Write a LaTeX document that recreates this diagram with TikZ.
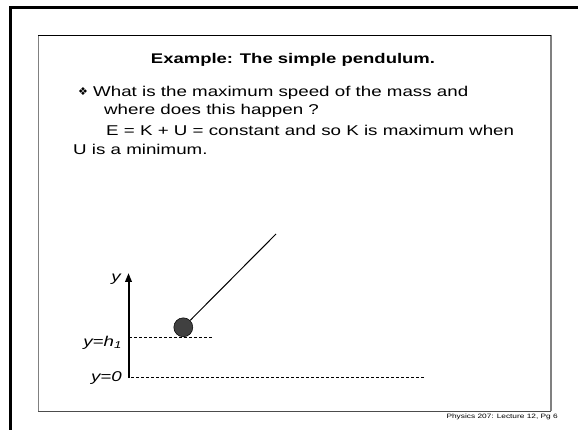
\documentclass[tikz,border=0pt]{standalone}
\usepackage{fontspec}
\setmainfont{Liberation Sans}[FakeStretch=1.32]
\newfontfamily\symfont{DejaVu Sans}
\usetikzlibrary{arrows.meta}

\begin{document}
\begin{tikzpicture}[x=1pt,y=-1pt]
    % --- STILI ---
    \tikzset{
        body_text/.style={anchor=base west, inner sep=0pt, font=\fontsize{14.2}{17}\selectfont},
        axis_label/.style={anchor=base east, inner sep=0pt, font=\fontsize{14.2}{17}\selectfont\itshape},
        level_line/.style={dashed, dash pattern=on 3pt off 2pt, line width=0.6pt},
        bob_style/.style={circle, draw=black, fill=black!75, line width=0.5pt, minimum size=19pt, inner sep=0pt}
    }

    % Pagina
    \useasboundingbox (0,0) rectangle (578,430);

    % ===================================================
    % 1. CORNICI
    % ===================================================
    \draw[line width=3pt] (10.3,430) -- (10.3,7.2) -- (578,7.2);
    \draw[black!50, line width=1.2pt] (38.3,35) -- (38.3,411);
    \draw[black!50, line width=1.2pt] (551,35) -- (551,411);
    \draw[black, line width=0.8pt] (38.3,35) -- (551,35);
    \draw[black!70, line width=0.8pt] (38.3,411) -- (551,411);

    % ===================================================
    % 2. TESTO
    % ===================================================
    \node[font=\fontsize{14}{17}\selectfont\bfseries, anchor=base] (title) at (293,64) {Example: The simple pendulum.};

    \node[inner sep=0pt, font=\fontsize{11}{12}\selectfont\symfont] (bullet) at (83,91.5) {❖};
    \node[body_text] (line1) at (93,97) {What is the maximum speed of the mass and};
    \node[body_text] (line2) at (104,115) {where does this happen ?};
    \node[body_text] (line3) at (106,136) {E = K + U = constant and so K is maximum when};
    \node[body_text] (line4) at (73,155) {U is a minimum.};

    \node[anchor=base east, inner sep=0pt, font=\fontsize{6.3}{8}\selectfont] (footer) at (558,418) {Physics 207: Lecture 12, Pg 6};

    % ===================================================
    % 3. PENDOLO
    % ===================================================
    \coordinate (ground) at (128.5,378);
    \coordinate (axistop) at (128.5,273);
    \coordinate (hstart) at (129,337.5);
    \coordinate (hend) at (212,337.5);
    \coordinate (zstart) at (131,377.5);
    \coordinate (zend) at (424,377.5);
    \coordinate (pivot) at (276,234);

    \node[bob_style] (bob) at (183.3,327.3) {};
    \draw[line width=1pt] (bob) -- (pivot);

    \draw[line width=2pt, -{Triangle[length=9pt, width=6.5pt]}] (ground) -- (axistop);
    \draw[level_line] (hstart) -- (hend);
    \draw[level_line] (zstart) -- (zend);

    \node[axis_label] (ylabel) at (121,282) {y};
    \node[axis_label] (hlabel) at (122,346.5) {y=h\textsubscript{1}};
    \node[axis_label] (zlabel) at (122,381.5) {y=0};
\end{tikzpicture}
\end{document}
